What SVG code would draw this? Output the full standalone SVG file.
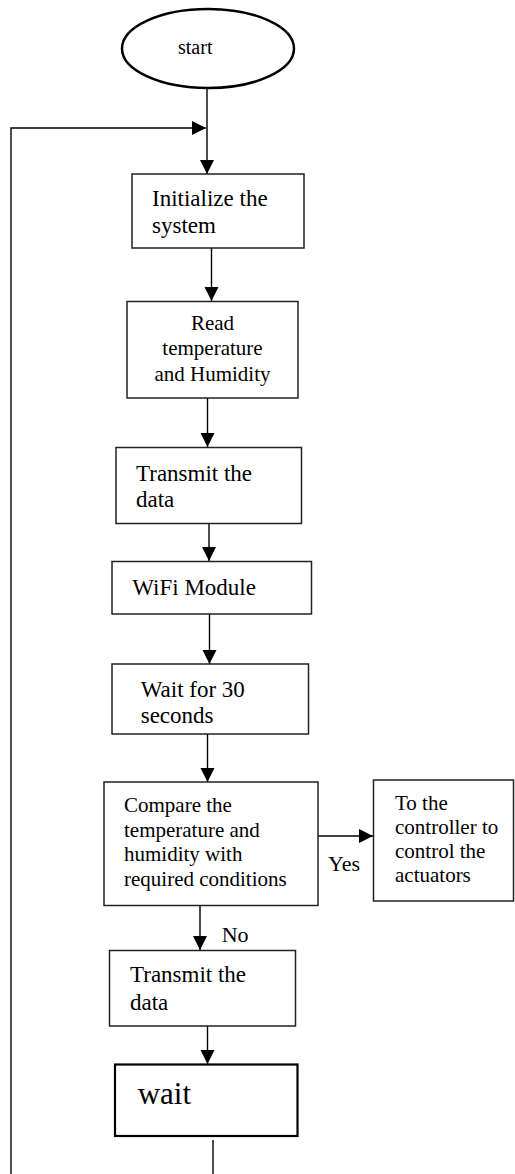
<svg xmlns="http://www.w3.org/2000/svg" width="515" height="1174" viewBox="0 0 515 1174">
<style>
.box{fill:#fff;stroke:#222;stroke-width:1.5}
.t{font-family:"Liberation Serif","Times New Roman",serif;fill:#000}
.ln{fill:none;stroke:#000;stroke-width:1.4}
</style>
<defs>
<marker id="ah" markerUnits="userSpaceOnUse" markerWidth="15" markerHeight="15" refX="14" refY="7" orient="auto">
<path d="M0,0 L14,7 L0,14 z" fill="#000"/>
</marker>
</defs>
<rect width="515" height="1174" fill="#fff"/>
<g id="connectors">
<line class="ln" x1="207" y1="88" x2="207" y2="174" marker-end="url(#ah)"/>
<polyline class="ln" points="11,1174 11,128 206,128" marker-end="url(#ah)"/>
<line class="ln" x1="211.5" y1="248" x2="211.5" y2="301" marker-end="url(#ah)"/>
<line class="ln" x1="207.5" y1="398" x2="207.5" y2="447" marker-end="url(#ah)"/>
<line class="ln" x1="209" y1="523" x2="209" y2="561" marker-end="url(#ah)"/>
<line class="ln" x1="209.5" y1="614" x2="209.5" y2="664" marker-end="url(#ah)"/>
<line class="ln" x1="207.5" y1="734" x2="207.5" y2="782" marker-end="url(#ah)"/>
<line class="ln" x1="318" y1="836" x2="373" y2="836" marker-end="url(#ah)"/>
<line class="ln" x1="200" y1="906" x2="200" y2="950" marker-end="url(#ah)"/>
<line class="ln" x1="207.5" y1="1026" x2="207.5" y2="1064" marker-end="url(#ah)"/>
<line class="ln" x1="213" y1="1140" x2="213" y2="1174"/>
<text class="t" x="328" y="870.7" font-size="22">Yes</text>
<text class="t" x="221.7" y="941.7" font-size="22">No</text>
</g>
<g id="start">
<ellipse cx="208" cy="48.5" rx="86" ry="39.5" fill="#fff" stroke="#000" stroke-width="2.5"/>
<text class="t" x="178" y="54" font-size="20">start</text>
</g>
<g id="init">
<rect class="box" x="132" y="174" width="172" height="74"/>
<text class="t" font-size="23"><tspan x="152" y="206">Initialize the</tspan><tspan x="152" y="232.7">system</tspan></text>
</g>
<g id="read">
<rect class="box" x="127" y="301.5" width="171" height="96.5"/>
<text class="t" font-size="21" text-anchor="middle"><tspan x="212.5" y="330">Read</tspan><tspan x="212.5" y="355">temperature</tspan><tspan x="212.5" y="381">and Humidity</tspan></text>
</g>
<g id="transmit1">
<rect class="box" x="116" y="447.5" width="185.5" height="76"/>
<text class="t" font-size="23"><tspan x="136" y="480.7">Transmit the</tspan><tspan x="136" y="506.7">data</tspan></text>
</g>
<g id="wifi">
<rect class="box" x="112" y="561.5" width="199.5" height="52.5"/>
<text class="t" font-size="23" x="132.3" y="595">WiFi Module</text>
</g>
<g id="wait30">
<rect class="box" x="112" y="664" width="196.5" height="70"/>
<text class="t" font-size="23"><tspan x="140.7" y="696.7">Wait for 30</tspan><tspan x="140.7" y="723.3">seconds</tspan></text>
</g>
<g id="compare">
<rect class="box" x="104" y="782" width="214" height="123.5"/>
<text class="t" font-size="21"><tspan x="124" y="811.7">Compare the</tspan><tspan x="124" y="836.7">temperature and</tspan><tspan x="124" y="861">humidity with</tspan><tspan x="124" y="886">required conditions</tspan></text>
</g>
<g id="controller">
<rect class="box" x="373.5" y="780" width="140" height="121"/>
<text class="t" font-size="21"><tspan x="395" y="810">To the</tspan><tspan x="395" y="834">controller to</tspan><tspan x="395" y="858.3">control the</tspan><tspan x="395" y="881.7">actuators</tspan></text>
</g>
<g id="transmit2">
<rect class="box" x="109.5" y="950.5" width="186" height="75.5"/>
<text class="t" font-size="23"><tspan x="130" y="982.3">Transmit the</tspan><tspan x="130" y="1010">data</tspan></text>
</g>
<g id="wait">
<rect x="115" y="1064.5" width="182.5" height="71.5" fill="#fff" stroke="#000" stroke-width="2.2"/>
<text class="t" font-size="31" x="137.7" y="1104">wait</text>
</g>
</svg>
